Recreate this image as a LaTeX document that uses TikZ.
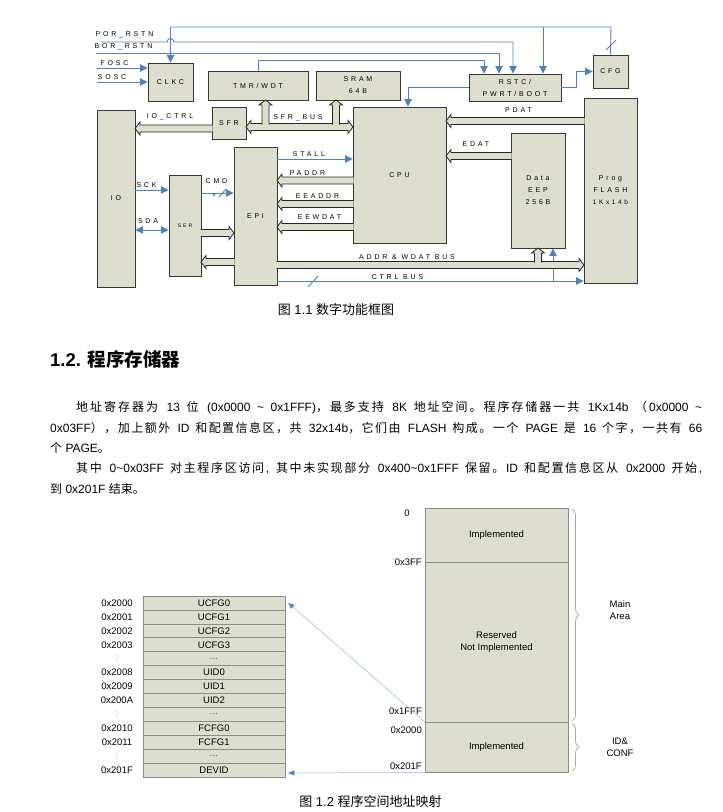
\documentclass[tikz,border=0pt]{standalone}
\usepackage{fontspec}
\setmainfont{Liberation Sans}
\newfontfamily\cjk{Noto Sans CJK SC}
\newfontfamily\djv{DejaVu Sans}
\newfontfamily\lsp[LetterSpace=40]{Liberation Sans}
\usetikzlibrary{arrows.meta,decorations.pathreplacing,calc}
\definecolor{boxfill}{RGB}{221,222,205}
\definecolor{boxline}{RGB}{55,55,55}
\definecolor{blu}{RGB}{79,129,189}
\definecolor{lblu}{RGB}{150,185,225}
\definecolor{gline}{RGB}{140,140,140}
\definecolor{brc}{RGB}{165,165,165}

\newcommand\z[1]{{\cjk #1}}
% CJK run with stretchable glue after each character (for justified lines)
\def\zend{\zend}
\def\zloop#1{\ifx#1\zend\else#1\hskip0pt plus 1pt\relax\expandafter\zloop\fi}
\newcommand\zz[1]{{\cjk\zloop#1\zend}}
\newcommand\bx[6]{\node[blk,minimum width={(#4-#2)*1pt},minimum height={(#5-#3)*1pt}] (#1) at ({(#2+#4)/2},{(#3+#5)/2}) {#6};}
\newcommand\vd{{\color{gray}\djv\fontsize{6.5}{6.5}\selectfont ⋮}}
\newcommand\dts{{\fontsize{7}{7}\selectfont .\kern1pt.\kern1pt.}}
% hollow bus arrows
\newcommand\busL[3]{% tip x (left), tail x, y
 \fill[boxfill] (#1,#3) -- (#1+5,#3-6.5) -- (#1+5,#3-3.5) -- (#2,#3-3.5) -- (#2,#3+3.5) -- (#1+5,#3+3.5) -- (#1+5,#3+6.5) -- cycle;
 \draw[busln] (#2,#3-3.5) -- (#1+5,#3-3.5) -- (#1+5,#3-6.5) -- (#1,#3) -- (#1+5,#3+6.5) -- (#1+5,#3+3.5) -- (#2,#3+3.5);}
\newcommand\busR[3]{% tip x (right), tail x, y
 \fill[boxfill] (#1,#3) -- (#1-5,#3-6.5) -- (#1-5,#3-3.5) -- (#2,#3-3.5) -- (#2,#3+3.5) -- (#1-5,#3+3.5) -- (#1-5,#3+6.5) -- cycle;
 \draw[busln] (#2,#3-3.5) -- (#1-5,#3-3.5) -- (#1-5,#3-6.5) -- (#1,#3) -- (#1-5,#3+6.5) -- (#1-5,#3+3.5) -- (#2,#3+3.5);}
\newcommand\busLR[3]{% left tip, right tip, y
 \fill[boxfill] (#1,#3) -- (#1+5,#3-6.5) -- (#1+5,#3-3.5) -- (#2-5,#3-3.5) -- (#2-5,#3-6.5) -- (#2,#3) -- (#2-5,#3+6.5) -- (#2-5,#3+3.5) -- (#1+5,#3+3.5) -- (#1+5,#3+6.5) -- cycle;
 \draw[busln] (#1,#3) -- (#1+5,#3-6.5) -- (#1+5,#3-3.5) -- (#2-5,#3-3.5) -- (#2-5,#3-6.5) -- (#2,#3) -- (#2-5,#3+6.5) -- (#2-5,#3+3.5) -- (#1+5,#3+3.5) -- (#1+5,#3+6.5) -- cycle;}
\newcommand\busU[3]{% tip y (top), tail y, x
 \fill[boxfill] (#3,#1) -- (#3-6.5,#1+5) -- (#3-3.5,#1+5) -- (#3-3.5,#2) -- (#3+3.5,#2) -- (#3+3.5,#1+5) -- (#3+6.5,#1+5) -- cycle;
 \draw[busln] (#3-3.5,#2) -- (#3-3.5,#1+5) -- (#3-6.5,#1+5) -- (#3,#1) -- (#3+6.5,#1+5) -- (#3+3.5,#1+5) -- (#3+3.5,#2);}

\begin{document}
\begin{tikzpicture}[x=1pt,y=-1pt,
  blk/.style={draw=boxline,fill=boxfill,line width=0.9pt,inner sep=0pt,align=center,font=\lsp\fontsize{7}{12}\selectfont},
  busln/.style={draw=black!85,line width=0.8pt},
  bl/.style={draw=blu,line width=0.9pt},
  tri/.style={-{Triangle[length=7.5pt,width=7.5pt]}},
  lab/.style={inner sep=0pt,font=\lsp\fontsize{7}{8}\selectfont},
  cell/.style={draw=gline,fill=boxfill,line width=0.6pt,minimum width=142pt,minimum height=13.92pt,inner sep=0pt,font=\fontsize{9.5}{10}\selectfont},
  addr/.style={inner sep=0pt,font=\fontsize{9.5}{10}\selectfont},
  txt/.style={inner sep=0pt,anchor=west,font=\fontsize{12}{14}\selectfont},
  brace/.style={draw=brc,line width=0.7pt,decorate,decoration={brace,amplitude=7pt}}]
\useasboundingbox (0,0) rectangle (723,812);
\fill[white] (0,0) rectangle (723,812);

% ---------- blocks ----------
\bx{clkc}{148}{63}{193}{101}{CLKC}
\bx{tmr}{208}{71}{308}{100}{TMR/WDT}
\bx{sram}{316}{71}{400}{100}{SRAM\\64B}
\bx{sfr}{212}{107}{246}{139}{SFR}
\bx{io}{97}{110}{135}{287}{IO}
\bx{cpu}{353}{107}{446}{243}{CPU}
\bx{rstc}{469}{74}{561}{101}{RSTC/\\PWRT/BOOT}
\bx{cfg}{593}{55}{628}{88}{CFG}
\bx{flash}{584}{98}{637}{283}{Prog\\FLASH\\{\fontsize{6.5}{12}\selectfont 1Kx14b}}
\bx{eep}{511}{133}{565}{248}{Data\\EEP\\256B}
\bx{epi}{234}{147}{277}{285}{EPI}
\bx{ser}{169}{175}{201}{276}{{\fontsize{5}{6}\selectfont SER}}

% ---------- blue signal lines ----------
\draw[bl,tri] (cfg.north) -- (611,27) -- (170.5,27) -- (clkc.north);
\draw[bl,tri] (543,27) -- (543,27 |- rstc.north);
\draw[bl] (606,50) -- (616,40);
\draw[bl,tri] (100,42) -- (167,42) arc[start angle=180,end angle=0,radius=3.5pt] -- (513,42) -- (513,42 |- rstc.north);
\draw[bl,tri] (96,53) -- (499,53) -- (499,53 |- rstc.north);
\draw[bl,tri] (tmr.north -| 258,0) -- (258,60) -- (484,60) -- (484,60 |- rstc.north);
\draw[bl,tri] (97,68) -- (97,68 -| clkc.west);
\draw[bl,tri] (97,82) -- (97,82 -| clkc.west);
\draw[bl,tri] (rstc.west) -- (408,87.5) -- (408,87.5 |- cpu.north);
\draw[bl,tri] (rstc.east) -- (576,87.5) -- (576,71.5) -- (cfg.west);
\draw[bl,tri] (epi.east |- 0,159) -- (cpu.west |- 0,159);
\draw[bl,tri] (io.east |- 0,190) -- (ser.west |- 0,190);
\draw[bl,{Triangle[length=7.5pt,width=7.5pt]}-{Triangle[length=7.5pt,width=7.5pt]}] (io.east |- 0,230) -- (ser.west |- 0,230);
\draw[bl,tri] (ser.east |- 0,193) -- (epi.west |- 0,193);
\draw[bl] (219,197) -- (226,189);
\draw[bl,tri] (epi.east |- 0,281) -- (flash.west |- 0,281);
\draw[bl] (308,287) -- (318,276);
\draw[bl,tri] (553,281) -- (553,281 |- eep.south);

% ---------- hollow buses ----------
\busL{135}{212.5}{128.5}
\busLR{246}{353}{127}
\busU{100}{124.5}{265.5}
\busU{100}{124.5}{336}
\busL{446}{584.5}{121}
\busL{446}{511.5}{156}
\busL{277}{353.5}{180.5}
\busL{277}{353.5}{204}
\busL{277}{353.5}{227}
\busR{234}{200.5}{233}
\busL{201}{234.5}{262}
\busR{584}{276.5}{265}
\busU{248}{262.5}{538}

% ---------- labels ----------
\node[lab] (lpor) at (124.5,35) {POR\_RSTN};
\node[lab] (lbor) at (123.5,47) {BOR\_RSTN};
\node[lab] (lfosc) at (114.5,63.5) {FOSC};
\node[lab] (lsosc) at (112,77.5) {SOSC};
\node[lab] (lioc) at (170,117) {IO\_CTRL};
\node[lab] (lsfr) at (298,118) {SFR\_BUS};
\node[lab] (lpdat) at (518.5,110) {PDAT};
\node[lab] (ledat) at (476,144) {EDAT};
\node[lab] (lstall) at (309,154) {STALL};
\node[lab] (lpaddr) at (307.5,173) {PADDR};
\node[lab] (leeaddr) at (317.5,196) {EEADDR};
\node[lab] (leewdat) at (319.5,217) {EEWDAT};
\node[lab] (laddr) at (407,257) {ADDR \& WDAT BUS};
\node[lab] (lctrl) at (397.5,277) {CTRL BUS};
\node[lab] (lsck) at (146.5,185) {SCK};
\node[lab] (lsda) at (148,221) {SDA};
\node[lab] (lcmd) at (216.5,181) {CMD};
\node[inner sep=0pt,font=\fontsize{5}{6}\selectfont] (lcmds) at (214,195.5) {s};

% ---------- captions and text ----------
\node[inner sep=0pt,font=\fontsize{13}{15}\selectfont] (cap1) at (336,310) {\z{图} 1.1 \z{数字功能框图}};
\node[txt,font=\bfseries\fontsize{18.5}{22}\selectfont] (head) at (50,359) {1.2. \z{程序存储器}};
\node[txt] (p1) at (76,408) {\makebox[626pt][s]{\zz{地址寄存器为} 13 \zz{位} (0x0000 \textasciitilde{} 0x1FFF)\zz{，最多支持} 8K \zz{地址空间。程序存储器一共} 1Kx14b \zz{（}0x0000 \textasciitilde}};
\node[txt] (p2) at (50,428) {\makebox[652pt][s]{0x03FF\zz{），加上额外} ID \zz{和配置信息区，共} 32x14b\zz{，它们由} FLASH \zz{构成。一个} PAGE \zz{是} 16 \zz{个字，一共有} 66}};
\node[txt] (p3) at (50,448) {\z{个} PAGE\z{。}};
\node[txt] (p4) at (76,468.5) {\makebox[626pt][s]{\zz{其中} 0\textasciitilde 0x03FF \zz{对主程序区访问}, \zz{其中未实现部分} 0x400\textasciitilde 0x1FFF \zz{保留。}ID \zz{和配置信息区从} 0x2000 \zz{开始},}};
\node[txt] (p5) at (50,489) {\z{到} 0x201F \z{结束。}};
\node[inner sep=0pt,font=\fontsize{13}{15}\selectfont] (cap2) at (370.5,802) {\z{图} 1.2 \z{程序空间地址映射}};

% ---------- table ----------
\foreach \t [count=\i from 0] in {UCFG0,UCFG1,UCFG2,UCFG3,\dts,UID0,UID1,UID2,\dts,FCFG0,FCFG1,\dts,DEVID}
  \node[cell] (r\i) at (214,{596+13.92*(\i+0.5)}) {\t};
\foreach \a [count=\i from 0] in {0x2000,0x2001,0x2002,0x2003,\vd,0x2008,0x2009,0x200A,\vd,0x2010,0x2011,\vd,0x201F}
  \node[addr] (a\i) at (117,{596+13.92*(\i+0.5)}) {\a};

% ---------- memory map ----------
\node[cell,minimum width=143pt,minimum height=54pt] (m1) at (496.5,535) {Implemented};
\node[cell,minimum width=143pt,minimum height=160pt,align=center,font=\fontsize{9.5}{12}\selectfont] (m2) at (496.5,642) {Reserved\\Not Implemented};
\node[cell,minimum width=143pt,minimum height=50pt] (m3) at (496.5,747) {Implemented};
\node[addr] (z0) at (407,513) {0};
\node[addr,anchor=east] (z1) at (422,562) {0x3FF};
\node[addr,anchor=east] (z2) at (422,711) {0x1FFF};
\node[addr,anchor=east] (z3) at (422,730) {0x2000};
\node[addr,anchor=east] (z4) at (422,766) {0x201F};
\draw[brace] (572,509) -- (572,721);
\draw[brace] (572,723) -- (572,771);
\node[addr,align=center,font=\fontsize{9.5}{12}\selectfont] (lmain) at (620,610) {Main\\Area};
\node[addr,align=center,font=\fontsize{9.5}{12}\selectfont] (lid) at (620,747) {ID\&\\CONF};
\draw[lblu,line width=0.5pt,-{Triangle[length=6pt,width=5pt,color=blu]}] (m3.north west) -- ($(r0.east)+(3,0)$);
\draw[lblu,line width=0.5pt,-{Triangle[length=6pt,width=5pt,color=blu]}] (m3.south west) -- ($(r12.east)+(3,3)$);
\end{tikzpicture}
\end{document}
